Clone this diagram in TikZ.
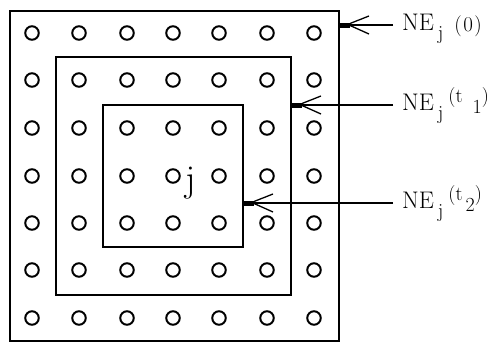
\documentclass[tikz,border=0pt]{standalone}
\usepackage{fontspec}
\setmainfont{Latin Modern Roman}
\usepackage{tikz}
\newcommand{\smallfs}{\fontsize{20}{21}\selectfont}
\begin{document}
\begin{tikzpicture}[x=1pt,y=-1pt,
  boxline/.style={draw=black,line width=2pt},
  dot/.style={circle,draw=black,line width=2pt,minimum size=13.5pt,inner sep=0pt},
  lab/.style={anchor=base west,inner sep=0pt,font=\fontsize{24}{26}\selectfont},
  barb/.style={line width=1.3pt},
  lead/.style={line width=1.8pt}]
\useasboundingbox[fill=white] (0,0) rectangle (499,343);
% boxes
\node[boxline,inner sep=0pt,minimum width=329pt,minimum height=330pt] (box0) at (174.5,176) {};
\node[boxline,inner sep=0pt,minimum width=235pt,minimum height=238pt] (box1) at (173.5,176) {};
\node[boxline,inner sep=0pt,minimum width=140pt,minimum height=142pt] (box2) at (173,176) {};
% grid of circles
\foreach \i/\x in {0/32,1/79,2/127,3/173,4/219,5/267,6/314}{
  \foreach \k/\y in {0/33,1/80,2/128,3/176,4/223,5/270,6/318}{
    \node[dot] (c\i\k) at (\x,\y) {};
  }
}
\node[anchor=base west,inner sep=0pt,font=\fontsize{38}{40}\selectfont] (jl) at (185,191) {j};
% labels
\node[lab] (l0) at (402,30) {NE\hspace{4pt}\raisebox{-9pt}{\smallfs j}\hspace{11pt}\raisebox{-1pt}{\fontsize{21}{21}\selectfont (\hspace{1.5pt}0\hspace{1.5pt})}};
\node[lab] (l1) at (402,110) {NE\hspace{4pt}\raisebox{-9pt}{\smallfs j}\hspace{5pt}\raisebox{8pt}{\smallfs (t\hspace{10pt}\raisebox{-11pt}{1})}};
\node[lab] (l2) at (402,208) {NE\hspace{4pt}\raisebox{-9pt}{\smallfs j}\hspace{5pt}\raisebox{8pt}{\smallfs (t\hspace{3pt}\raisebox{-11pt}{2})}};
% arrow tips on the box edges
\coordinate (t0) at (box0.east |- 0,25);
\coordinate (t1) at (box1.east |- 0,105);
\coordinate (t2) at (box2.east |- 0,203);
\foreach \t/\l in {t0/l0,t1/l1,t2/l2}{
  \draw[lead] ([xshift=-9pt]\l.west |- \t) -- (\t);
  \fill ([yshift=-2.5pt]\t) rectangle ([xshift=10pt,yshift=2.5pt]\t);
  \draw[barb] ([xshift=10pt,yshift=-0.5pt]\t) -- ([xshift=29pt,yshift=-9pt]\t);
  \draw[barb] ([xshift=10pt,yshift=1.5pt]\t) -- ([xshift=29pt,yshift=9pt]\t);
}
\end{tikzpicture}
\end{document}
